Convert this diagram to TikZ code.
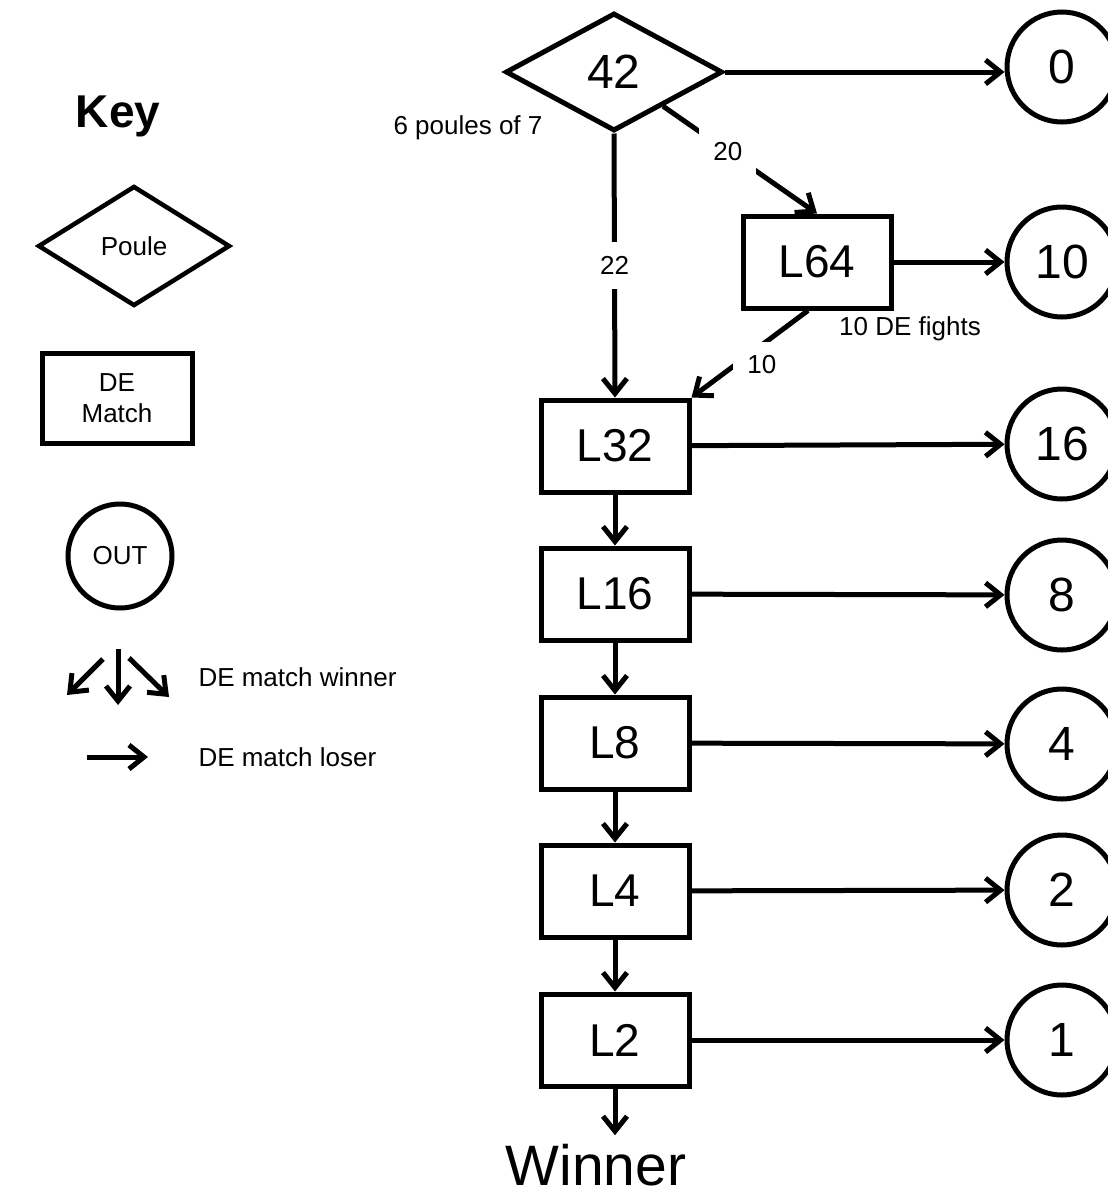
\documentclass[tikz,border=0pt]{standalone}
\usepackage{fontspec}
\setmainfont{Liberation Sans}
\usetikzlibrary{shapes.geometric,arrows.meta}

\newcommand{\fsz}[1]{\fontsize{#1}{#1}\selectfont}

\tikzset{
  poulenode/.style={draw, diamond, line width=5pt, inner sep=0pt,
    minimum width=217pt, minimum height=118pt, font=\fsz{48}},
  denode/.style={draw, rectangle, line width=5pt, inner sep=0pt,
    minimum width=148pt, minimum height=92pt, font=\fsz{46}},
  outnode/.style={draw, circle, line width=5pt, inner sep=0pt,
    minimum size=110pt, font=\fsz{48}},
  gaplabel/.style={fill=white, inner sep=14pt, font=\fsz{26}},
  smalltext/.style={font=\fsz{26}, inner sep=0pt},
}

\begin{document}
\begin{tikzpicture}[x=1pt, y=-1pt, line width=5pt,
    >={Straight Barb[length=15pt, width=24pt, line width=5pt]}]

  %% ---- Frame ----
  \useasboundingbox (0,0) rectangle (1108,1197);

  %% ---- Key ----
  \node[font=\fsz{46}\bfseries, inner sep=0pt] (keytitle) at (118,116) {Key};
  \node[poulenode, minimum width=192pt, minimum height=120pt,
        line width=4.5pt, font=\fsz{26}] (keypoule) at (134,246) {Poule};
  \node[denode, minimum width=150pt, minimum height=90pt, align=center,
        font=\fsz{26}] (keyde) at (117,398) {DE\\[5pt]Match};
  \node[outnode, minimum size=104pt, font=\fsz{26}] (keyout) at (120,556) {OUT};

  %% ---- Key arrows ----
  \draw[->] (103,659) -- (67,695);
  \draw[->] (118,649) -- (118,705);
  \draw[->] (129,658) -- (169,697);
  \node[smalltext, anchor=west] (keywin) at (196,677) {DE match winner};
  \draw[->] (87,757) -- (148,757);
  \node[smalltext, anchor=west] (keylose) at (196,757) {DE match loser};

  %% ---- Poule ----
  \node[poulenode] (p42) at (614,72) {42};
  \node[smalltext] (poulenote) at (468,128) {6 poules of 7};

  %% ---- DE matches ----
  \node[denode] (L64) at (817,262) {L64};
  \node[smalltext] (fightnote) at (910,329) {10 DE fights};
  \node[denode] (L32) at (615,446) {L32};
  \node[denode] (L16) at (615,594) {L16};
  \node[denode] (L8)  at (615,743) {L8};
  \node[denode] (L4)  at (615,891) {L4};
  \node[denode] (L2)  at (615,1040) {L2};
  \node[font=\fsz{57}, inner sep=6pt, anchor=base] (winner) at (596,1185) {Winner};

  %% ---- Out ----
  \node[outnode] (out0)  at (1062,67)  {0};
  \node[outnode] (out10) at (1062,262) {10};
  \node[outnode] (out16) at (1062,444) {16};
  \node[outnode] (out8)  at (1062,595) {8};
  \node[outnode] (out4)  at (1062,744) {4};
  \node[outnode] (out2)  at (1062,890) {2};
  \node[outnode] (out1)  at (1062,1040) {1};

  %% ---- Winners down ----
  \draw[->] (p42) -- (L64.north)
    node[gaplabel, pos=0.42] {20};
  \draw[->] (p42.south) -- (L32.north)
    node[gaplabel, midway] {22};
  \draw[->] ([xshift=-9pt]L64.south) -- (L32.north east)
    node[gaplabel, midway, xshift=12pt, yshift=-11pt] {10};
  \draw[->] (L32) -- (L16);
  \draw[->] (L16) -- (L8);
  \draw[->] (L8)  -- (L4);
  \draw[->] (L4)  -- (L2);
  \draw[->] (L2.south) -- (L2.south |- winner.north);

  %% ---- Losers out ----
  \draw[->] (p42.east) -- (p42.east -| out0.west);
  \draw[->] (L64) -- (out10);
  \draw[->] (L32) -- (out16);
  \draw[->] (L16) -- (out8);
  \draw[->] (L8)  -- (out4);
  \draw[->] (L4)  -- (out2);
  \draw[->] (L2)  -- (out1);

\end{tikzpicture}
\end{document}
